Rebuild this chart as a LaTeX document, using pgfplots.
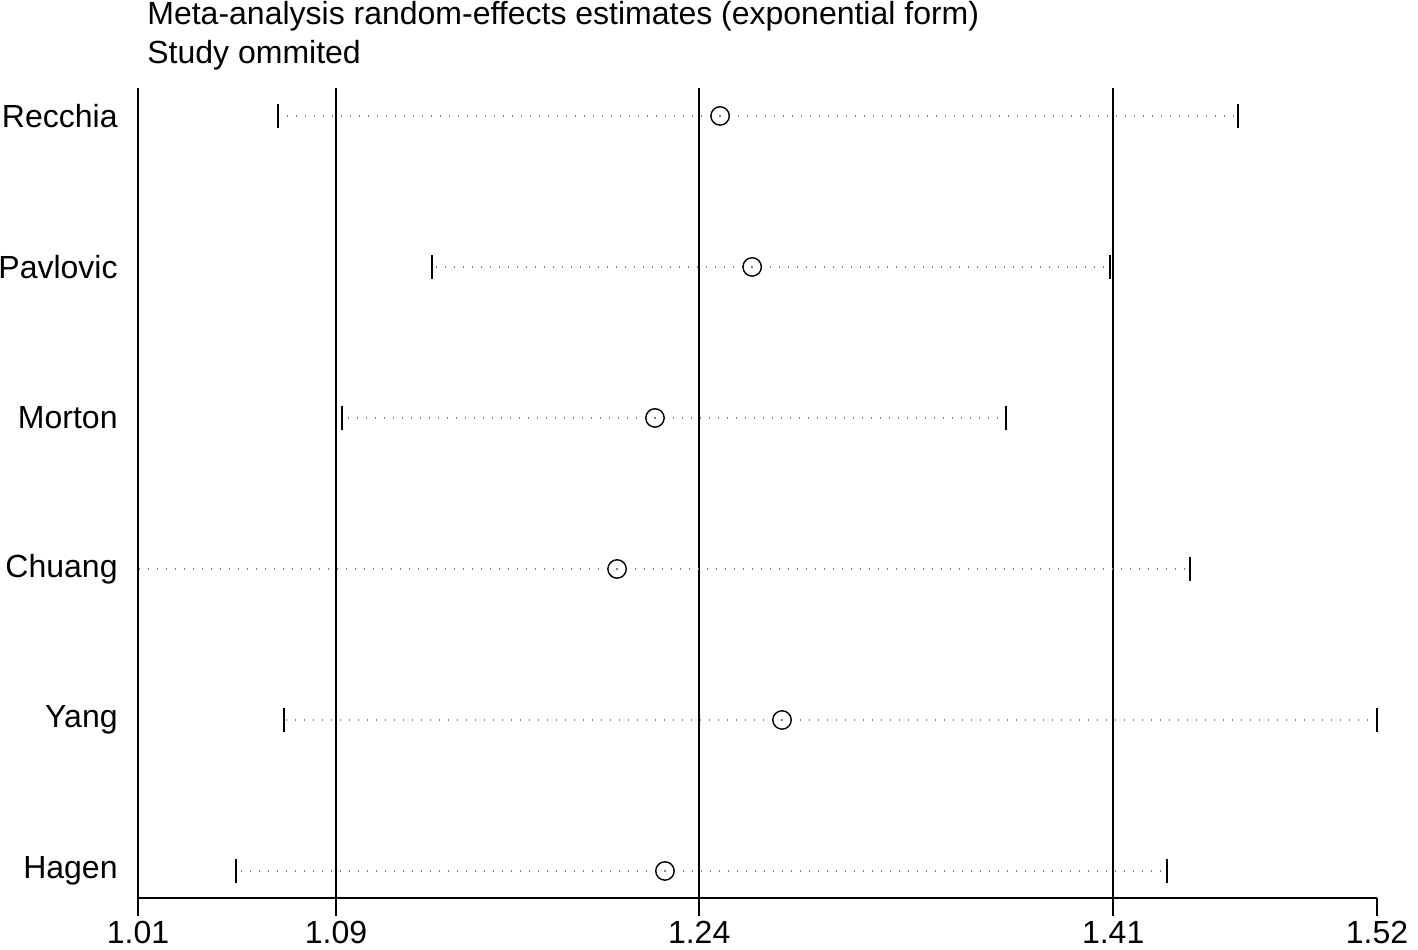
\documentclass[border=0pt]{standalone}
\usepackage{pgfplots}
\pgfplotsset{compat=1.18}
\usepackage{pgfplotstable}
\usepackage{fontspec}
\setmainfont{Liberation Sans}

% omitted study: y position, estimate, lower and upper CI
\pgfplotstableread{
y est lo hi
6 1.2496 1.0676 1.4629
5 1.2628 1.1310 1.4102
4 1.2228 1.0940 1.3673
3 1.2072 1.0100 1.4431
2 1.2751 1.0701 1.5200
1 1.2269 1.0503 1.4336
}\omitted

\begin{document}
\begin{tikzpicture}[font=\fontsize{16}{19}\selectfont]
\begin{axis}[
    at={(0,0)}, anchor=south west,
    scale only axis,
    width=619.5pt, height=405pt,
    xmin=1.01, xmax=1.52,
    ymin=0.821, ymax=6.185,
    axis x line*=bottom,
    axis y line*=left,
    axis line style={line width=0.8pt},
    clip=false,
    xtick={1.01,1.0915,1.2410,1.4114,1.52},
    xticklabels={1.01,1.09,1.24,1.41,1.52},
    tick align=outside,
    x tick style={line width=0.8pt, black},
    major tick length=9pt,
    xticklabel style={inner sep=0pt, anchor=north, yshift=-2.5pt},
    ytick={1,2,3,4,5,6},
    yticklabels={Hagen,Yang,Chuang,Morton,Pavlovic,Recchia},
    y tick style={draw=none},
    yticklabel style={inner sep=0pt, anchor=east, xshift=-1pt},
]
% reference lines
\addplot[black, line width=0.8pt] coordinates {(1.0915,0.821) (1.0915,6.185)};
\addplot[black, line width=0.8pt] coordinates {(1.2410,0.821) (1.2410,6.185)};
\addplot[black, line width=0.8pt] coordinates {(1.4114,0.821) (1.4114,6.185)};
% estimates with confidence intervals
\addplot[only marks, mark=o, mark size=4.6pt, mark options={line width=0.7pt, black},
    error bars/.cd,
      x dir=both, x explicit,
      error mark=|,
      error bar style={gray, line width=0.7pt, dash pattern=on 0.6pt off 3.9pt},
      error mark options={solid, black, line width=0.8pt, mark size=6pt}]
  table[x=est, y=y,
        x error plus expr=\thisrow{hi}-\thisrow{est},
        x error minus expr=\thisrow{est}-\thisrow{lo}] {\omitted};
\end{axis}
\node[anchor=base west, inner sep=0pt] at (4.5pt,436.5pt) {Meta-analysis random-effects estimates (exponential form)};
\node[anchor=base west, inner sep=0pt] at (4.5pt,417pt) {Study ommited};
\pgfresetboundingbox
\path (-69pt,-25.5pt) rectangle (640pt,449pt);
\end{tikzpicture}
\end{document}
